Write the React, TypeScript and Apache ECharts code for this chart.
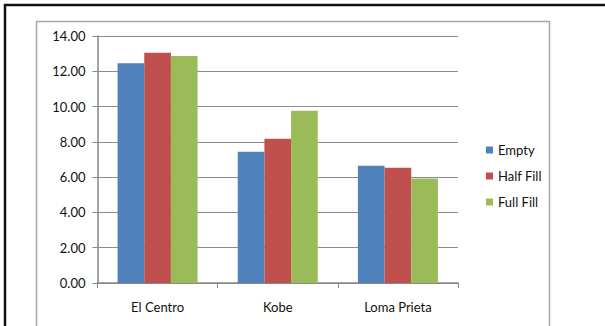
import React, { useEffect, useRef } from "react";
import * as echarts from "echarts";

// Earthquake records on the category axis
const categories = ["El Centro", "Kobe", "Loma Prieta"];

// Response per fill level
const emptyValues = [12.45, 7.44, 6.65];
const halfFillValues = [13.05, 8.18, 6.53];
const fullFillValues = [12.87, 9.77, 5.93];

const seriesNames = ["Empty", "Half Fill", "Full Fill"];
const seriesColors = ["#4F81BD", "#C0504D", "#9BBB59"];

const FONT = "Lato, 'Open Sans', sans-serif";

export default function App() {
  const ref = useRef<HTMLDivElement>(null);

  useEffect(() => {
    if (!ref.current) return;
    const chart = echarts.init(ref.current, undefined, { renderer: "svg" });
    const values = [emptyValues, halfFillValues, fullFillValues];

    chart.setOption({
      animation: false,
      backgroundColor: "#ffffff",
      textStyle: { fontFamily: FONT },
      grid: { left: 97.5, right: 147, top: 36, bottom: 43, containLabel: false },
      legend: {
        orient: "vertical",
        left: 481,
        top: 138,
        icon: "rect",
        itemWidth: 7,
        itemHeight: 7,
        itemGap: 12,
        data: seriesNames,
        textStyle: { fontFamily: FONT, fontSize: 13, color: "#111111", lineHeight: 14 },
      },
      xAxis: {
        type: "category",
        data: categories,
        axisLine: { show: true, lineStyle: { color: "#868686", width: 1.5 } },
        axisTick: { show: true, length: 5, inside: false, alignWithLabel: false, lineStyle: { color: "#868686" } },
        axisLabel: { margin: 17, fontFamily: FONT, fontSize: 13, color: "#111111" },
        splitLine: { show: false },
      },
      yAxis: {
        type: "value",
        min: 0,
        max: 14,
        interval: 2,
        axisLine: { show: true, lineStyle: { color: "#868686", width: 1.5 } },
        axisTick: { show: true, length: 5, inside: false, lineStyle: { color: "#868686" } },
        axisLabel: {
          margin: 12,
          fontFamily: FONT,
          fontSize: 13,
          color: "#111111",
          formatter: (v: number) => v.toFixed(2),
        },
        splitLine: { show: true, lineStyle: { color: "#8c8c8c", width: 1.2 } },
      },
      series: seriesNames.map((name, i) => ({
        name,
        type: "bar",
        data: values[i],
        barGap: "0%",
        barCategoryGap: "33.4%",
        itemStyle: { color: seriesColors[i] },
      })),
      graphic: [
        {
          type: "rect",
          silent: true,
          shape: { x: 36.5, y: 21.5, width: 513, height: 400 },
          style: { fill: "none", stroke: "#a6a6a6", lineWidth: 1.5 },
        },
        {
          type: "rect",
          silent: true,
          shape: { x: 5, y: 5, width: 700, height: 400 },
          style: { fill: "none", stroke: "#111111", lineWidth: 2.5 },
        },
      ],
    });

    return () => chart.dispose();
  }, []);

  return (
    <div
      ref={ref}
      style={{ position: "absolute", left: 0, top: 0, width: 605, height: 326 }}
    />
  );
}
